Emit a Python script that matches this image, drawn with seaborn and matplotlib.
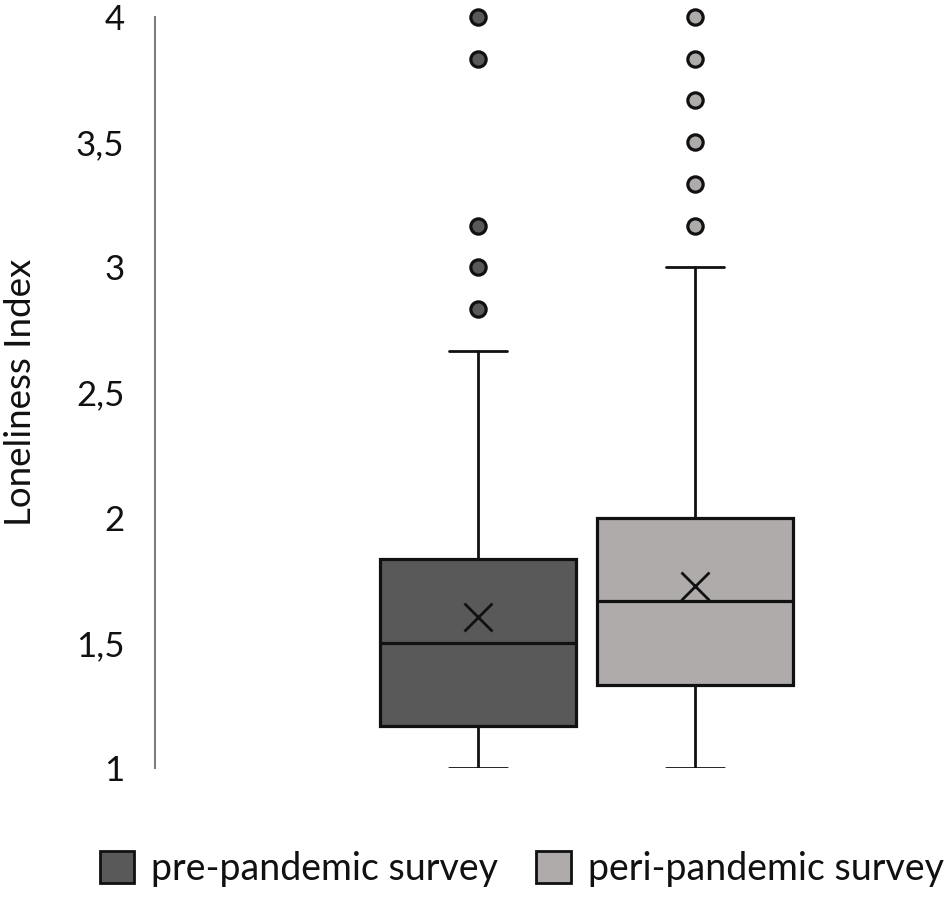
import matplotlib
matplotlib.use("Agg")
import matplotlib.pyplot as plt
from matplotlib.patches import Patch
import seaborn as sns

# ---- data ----
groups = ["pre-pandemic survey", "peri-pandemic survey"]
q1 = [1.167, 1.333]
median = [1.5, 1.667]
q3 = [1.833, 2.0]
whisker_low = [1.0, 1.0]
whisker_high = [2.667, 3.0]
mean = [1.603, 1.729]
outliers_pre = [2.833, 3.0, 3.167, 3.833, 4.0]
outliers_peri = [3.167, 3.333, 3.5, 3.667, 3.833, 4.0]
y_ticks = [1, 1.5, 2, 2.5, 3, 3.5, 4]
y_tick_labels = ["1", "1,5", "2", "2,5", "3", "3,5", "4"]
colors = ["#595959", "#AFABAB"]

sns.set_theme(style="white")
plt.rcParams['font.family'] = ['Lato', 'DejaVu Sans']

fig = plt.figure(figsize=(9.5, 8.97), dpi=100)
ax = fig.add_axes([155/950, 1 - 768/897, 1 - 155/950, (768 - 17)/897])

outliers = [outliers_pre, outliers_peri]
stats = []
for i, g in enumerate(groups):
    stats.append(dict(label=g, q1=q1[i], med=median[i], q3=q3[i],
                      whislo=whisker_low[i], whishi=whisker_high[i],
                      mean=mean[i], fliers=outliers[i]))

edge = "#111111"
res = ax.bxp(stats, positions=[0, 1], widths=0.903, capwidths=0.27,
             patch_artist=True, showmeans=True, showfliers=True,
             boxprops=dict(linewidth=2.3, edgecolor=edge),
             medianprops=dict(color=edge, linewidth=2.3),
             whiskerprops=dict(color=edge, linewidth=2.0),
             capprops=dict(color=edge, linewidth=2.0),
             meanprops=dict(marker="x", markersize=20, markeredgecolor=edge,
                            markeredgewidth=2.0, linestyle="none"),
             flierprops=dict(marker="o", markersize=11, markeredgecolor=edge,
                             markeredgewidth=2.3, linestyle="none"))
for patch, c in zip(res["boxes"], colors):
    patch.set_facecolor(c)
for fl, c in zip(res["fliers"], colors):
    fl.set_markerfacecolor(c)
for l in res["fliers"] + res["means"]:
    l.set_clip_on(False)

ax.set_ylim(1, 4)
left = -(478 - 155) / 217
right = 1 + (950 - 695) / 217
ax.set_xlim(left, right)
ax.set_yticks(y_ticks)
ax.set_yticklabels(y_tick_labels)
ax.set_xticks([])
ax.tick_params(axis="y", length=0, pad=22, labelsize=25, colors="#111111")
for s in ["top", "right", "bottom"]:
    ax.spines[s].set_visible(False)
ax.spines["left"].set_color("#7f7f7f")
ax.spines["left"].set_linewidth(1.5)
ax.set_ylabel("Loneliness Index", fontsize=26.5, color="#111111")
ax.yaxis.set_label_coords(-0.148, 0.5)

handles = [Patch(facecolor=c, edgecolor=edge, linewidth=2) for c in colors]
fig.legend(handles, groups, loc="center", bbox_to_anchor=(0.549, 1 - 869/897),
           ncol=2, frameon=False, fontsize=27, labelcolor="#111111",
           handlelength=0.93, handleheight=0.95,
           handletextpad=0.45, columnspacing=1.0)

fig.savefig("out.png", dpi=100)
